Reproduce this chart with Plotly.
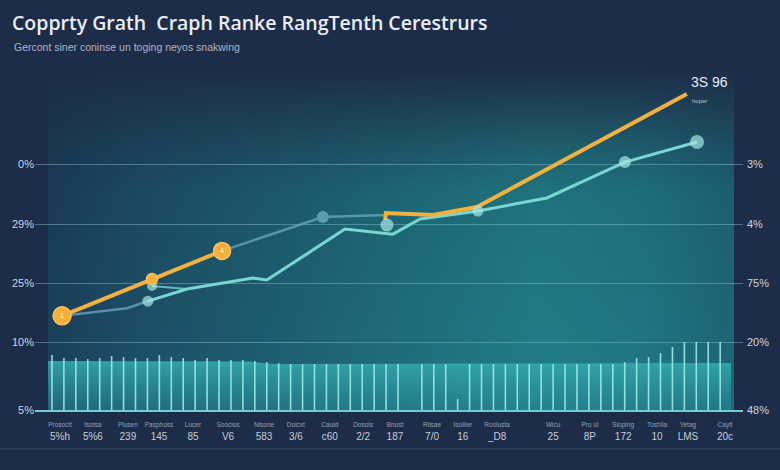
import base64
import struct
import zlib
import plotly.graph_objects as go

# ---------------- data ----------------
# x unit: one step between bottom labels; y unit: 0-100 chart scale
tick_pos = [0, 0.94, 1.94, 2.83, 3.8, 4.8, 5.83, 6.74, 7.71, 8.66,
            9.57, 10.63, 11.51, 12.49, 14.09, 15.14, 16.09, 17.06, 17.94, 19.0]
tick_words = ["Prosocit", "Isotsa", "Plusen", "Pasphoss", "Lucer", "Soocios", "Nisone",
              "Doicxt", "Cauid", "Dosois", "Bnust", "Riisae", "Isoliier", "Roolusta",
              "Wicu", "Pro ui", "Sioping", "Toshiia", "Yetag", "Cayit"]
tick_nums = ["5%h", "5%6", "239", "145", "85", "V6", "583", "3/6", "c60", "2/2",
             "187", "7/0", "16", "_D8", "25", "8P", "172", "10", "LMS", "20c"]

grid_vals = [0, 20.3, 37.9, 55.5, 73.4]
left_labels = ["5%", "10%", "25%", "29%", "0%"]
right_labels = ["48%", "20%", "75%", "4%", "3%"]

orange_x = [0.06, 2.63, 4.63, None, 9.29, 9.31, 10.66, 11.91, 17.91]
orange_y = [28.1, 39.1, 47.5, None, 56.7, 58.8, 58.2, 60.6, 94.3]
orange_marker_idx = [0, 1, 2]
orange_marker_size = [18, 11, 17]
orange_marker_text = ["1", "", "4"]

grey_x = [0.06, 1.91, 2.51, None, 4.63, 7.51, 9.29]
grey_y = [28.1, 30.4, 32.5, None, 47.5, 57.6, 58.2]
grey_marker_idx = [5]

cyan_x = [2.51, 3.63, 5.51, 5.91, 8.14, 9.51, 10.29, 11.94, 13.91, 16.14, 18.2]
cyan_y = [32.5, 36.1, 39.4, 38.8, 54.0, 52.5, 57.0, 59.4, 63.3, 74.0, 80.0]
cyan_branch_x = [2.63, 3.63]
cyan_branch_y = [37.0, 36.1]
cyan_pt_x = [2.51, 2.63, 9.34, 11.94, 16.14, 18.2]
cyan_pt_y = [32.5, 37.0, 55.2, 59.4, 74.0, 80.0]
cyan_pt_size = [11, 10, 13, 11, 12, 14]

bar_start, bar_step = -0.229, 0.3409
bar_h = ([16.4, 15.5, 15.5, 15.2, 15.5, 16.1, 15.8, 15.5, 15.5, 16.4,
          15.8, 15.5, 14.9, 15.5, 14.9, 14.9, 14.9, 14.6, 14.3, 14.0]
         + [13.7] * 10 + [None] + [13.7] * 3 + [3.3] + [13.7] * 13
         + [14.3, 15.5, 15.8, 17.0, 18.8] + [20.3] * 4)
bar_x = [bar_start + bar_step * i for i in range(len(bar_h))]

area_x = [-0.34, 5.43, 5.77, 6.14, 19.17]
area_y = [14.6, 14.5, 14.0, 13.7, 14.0]

NAVY = "#1d2c49"

# ---------------- background gradient image ----------------
def lerp(a, b, t):
    return tuple(a[k] + (b[k] - a[k]) * t for k in range(3))

h_stops = [(0.0, (27, 66, 94)), (0.12, (29, 80, 105)), (0.45, (31, 106, 122)),
           (0.72, (34, 126, 137)), (0.88, (33, 120, 133)), (1.0, (30, 104, 121))]
navy_rgb = (29, 44, 73)

def hcol(u):
    for (u0, c0), (u1, c1) in zip(h_stops, h_stops[1:]):
        if u <= u1:
            return lerp(c0, c1, (u - u0) / (u1 - u0))
    return h_stops[-1][1]

W, H = 40, 20
rows = []
for j in range(H):
    v = j / (H - 1)
    t = max(0.0, min(1.0, (0.38 - v) / 0.38))
    w = t ** 1.3
    row = bytearray()
    for i in range(W):
        u = i / (W - 1)
        b = hcol(u)
        b = tuple(c * (0.87 + 0.13 * v) for c in b)
        c = lerp(b, navy_rgb, w)
        row += bytes(int(max(0, min(255, round(x)))) for x in c)
    rows.append(bytes(row))

def chunk(tag, data):
    return (struct.pack(">I", len(data)) + tag + data
            + struct.pack(">I", zlib.crc32(tag + data) & 0xffffffff))

raw = b"".join(b"\x00" + r for r in rows)
png = (b"\x89PNG\r\n\x1a\n"
       + chunk(b"IHDR", struct.pack(">IIBBBBB", W, H, 8, 2, 0, 0, 0))
       + chunk(b"IDAT", zlib.compress(raw))
       + chunk(b"IEND", b""))
bg_uri = "data:image/png;base64," + base64.b64encode(png).decode()

# ---------------- figure ----------------
fig = go.Figure()

fig.add_trace(go.Scatter(
    x=area_x, y=area_y, mode="lines", fill="tozeroy", line=dict(width=0),
    fillgradient=dict(type="vertical",
                      colorscale=[[0, "rgba(36,132,145,0.55)"], [1, "rgba(52,176,178,0.85)"]]),
    hoverinfo="skip", showlegend=False))

fig.add_trace(go.Bar(
    x=bar_x, y=bar_h, width=0.045, yaxis="y2",
    marker=dict(color="rgba(160,235,235,0.9)", line=dict(width=0)),
    hoverinfo="skip", showlegend=False))

fig.add_trace(go.Scatter(
    x=grey_x, y=grey_y, mode="lines",
    line=dict(color="rgba(98,160,182,0.85)", width=2.5),
    hoverinfo="skip", showlegend=False))

fig.add_trace(go.Scatter(
    x=cyan_branch_x, y=cyan_branch_y, mode="lines",
    line=dict(color="rgba(120,210,210,0.8)", width=2),
    hoverinfo="skip", showlegend=False))

fig.add_trace(go.Scatter(
    x=cyan_x, y=cyan_y, mode="lines",
    line=dict(color="#78d6d3", width=3),
    hoverinfo="skip", showlegend=False))

fig.add_trace(go.Scatter(
    x=orange_x, y=orange_y, mode="lines",
    line=dict(color="#f4b13f", width=4),
    hoverinfo="skip", showlegend=False))

fig.add_trace(go.Scatter(
    x=[grey_x[i] for i in grey_marker_idx], y=[grey_y[i] for i in grey_marker_idx],
    mode="markers", marker=dict(color="#5f9cb1", size=12, line=dict(width=0)),
    hoverinfo="skip", showlegend=False))

fig.add_trace(go.Scatter(
    x=cyan_pt_x, y=cyan_pt_y, mode="markers",
    marker=dict(color="#a6e7e1", size=cyan_pt_size, line=dict(width=0)),
    hoverinfo="skip", showlegend=False))

fig.add_trace(go.Scatter(
    x=[orange_x[i] for i in orange_marker_idx], y=[orange_y[i] for i in orange_marker_idx],
    mode="markers+text", text=orange_marker_text, textposition="middle center",
    textfont=dict(color="#fff1d6", size=8, family="Liberation Sans"),
    marker=dict(color="#f6b03a", size=orange_marker_size, opacity=1,
                line=dict(color="#fcc260", width=1.5)),
    hoverinfo="skip", showlegend=False))

tick_text = [f"<span style='font-size:6.5px;color:#93a2b6'>{w}</span><br>{n}"
             for w, n in zip(tick_words, tick_nums)]

axis_font = dict(family="Liberation Sans", size=11, color="#cdd5df")

fig.update_layout(
    width=780, height=470,
    margin=dict(l=35, r=37, t=75, b=60, pad=0),
    paper_bgcolor=NAVY, plot_bgcolor="rgba(0,0,0,0)",
    showlegend=False,
    xaxis=dict(range=[-0.714, 19.514], tickvals=tick_pos, ticktext=tick_text,
               showgrid=False, zeroline=False, showline=True,
               linecolor="#7ccad1", linewidth=1.5, ticks="", ticklabelstandoff=3,
               tickfont=dict(family="Liberation Sans", size=10, color="#c5cedb")),
    yaxis=dict(range=[0, 100], tickvals=grid_vals, ticktext=left_labels,
               showgrid=True, gridcolor="rgba(140,195,210,0.45)", gridwidth=1,
               zeroline=False, showline=False, ticks="", tickfont=axis_font),
    yaxis2=dict(range=[0, 100], overlaying="y", side="right",
                tickvals=grid_vals, ticktext=right_labels,
                showgrid=False, zeroline=False, showline=False, ticks="",
                ticklabelstandoff=3, tickfont=axis_font),
    images=[dict(source=bg_uri, xref="paper", yref="paper",
                 x=13 / 708, y=350 / 335, sizex=686 / 708, sizey=350 / 335,
                 xanchor="left", yanchor="top", sizing="stretch", layer="below")],
    shapes=[dict(type="line", xref="paper", yref="paper",
                 x0=-35 / 708, x1=745 / 708, y0=-39 / 335, y1=-39 / 335,
                 line=dict(color="#33466a", width=1))],
    annotations=[
        dict(text="Copprty Grath  Craph Ranke RangTenth Cerestrurs",
             xref="paper", yref="paper", x=-25 / 708, y=388 / 335,
             xanchor="left", yanchor="middle", showarrow=False,
             font=dict(family="Open Sans", size=19.5, color="#e9eef5", weight=600)),
        dict(text="Gercont siner coninse un toging neyos snakwing",
             xref="paper", yref="paper", x=-23 / 708, y=363 / 335,
             xanchor="left", yanchor="middle", showarrow=False,
             font=dict(family="Liberation Sans", size=10.5, color="#aab6c8")),
        dict(text="3S 96", x=18.57, y=97.9, xref="x", yref="y",
             showarrow=False, font=dict(family="Liberation Sans", size=14, color="#e6ecf3")),
        dict(text="hoper", x=18.26, y=92.2, xref="x", yref="y",
             showarrow=False, font=dict(family="Liberation Sans", size=6, color="#b8c4d2")),
    ],
)

fig.write_html(
    "out.html",
    config={"displayModeBar": False},
    post_script="document.body.style.margin='0';document.body.style.background='%s';" % NAVY,
)
